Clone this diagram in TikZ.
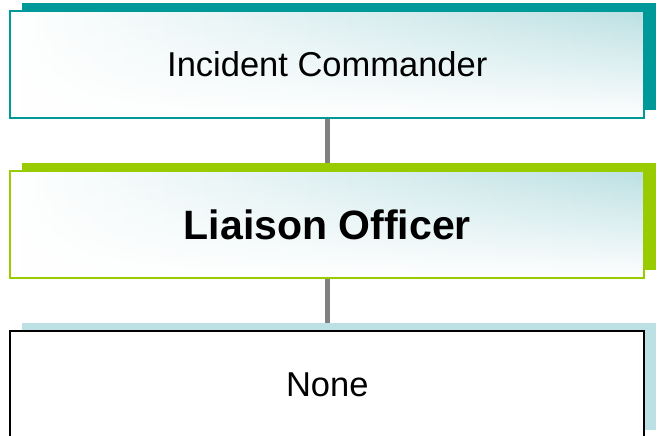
\documentclass[tikz,border=0pt]{standalone}
\usepackage{fontspec}
\setmainfont{Liberation Sans}
\usetikzlibrary{shadows,fadings,backgrounds}
\definecolor{tealc}{RGB}{0,153,153}
\definecolor{greenc}{RGB}{153,204,0}
\definecolor{paleblue}{RGB}{188,224,227}
\tikzfading[name=fadeup, top color=transparent!100,
  middle color=transparent!75, bottom color=transparent!0]
\tikzstyle{link}=[draw, line width=5pt, color=gray]
\tikzstyle{role} =
  [rectangle, minimum width=634pt, minimum height=107pt, inner sep=0pt,
   line width=1.7pt, text centered, font=\fontsize{34.5}{40}\selectfont]
\tikzstyle{tinted} =
  [preaction={left color=white, right color=paleblue},
   preaction={fill=white, path fading=fadeup}]

\begin{document}
\begin{tikzpicture}[x=1pt, y=1pt, node distance=160pt]
  \useasboundingbox (0,0) rectangle (657,-436);
  \node [role, general shadow={fill=tealc, shadow xshift=11.5pt, shadow yshift=8pt},
    tinted, draw=tealc] (ic) at (327.3,-64.5) {Incident Commander};
  \node [role, general shadow={fill=greenc, shadow xshift=11.5pt, shadow yshift=8pt},
    tinted, draw=greenc, below of=ic,
    font=\bfseries\fontsize{41}{48}\selectfont] (lo) {Liaison Officer};
  \node [role, general shadow={fill=paleblue, shadow xshift=11.5pt, shadow yshift=8pt},
    fill=white, draw=black, below of=lo] (none) {None};

  \begin{scope}[on background layer]
    \draw [link] (ic) -- (lo);
    \draw [link] (lo) -- (none);
  \end{scope}
\end{tikzpicture}
\end{document}
